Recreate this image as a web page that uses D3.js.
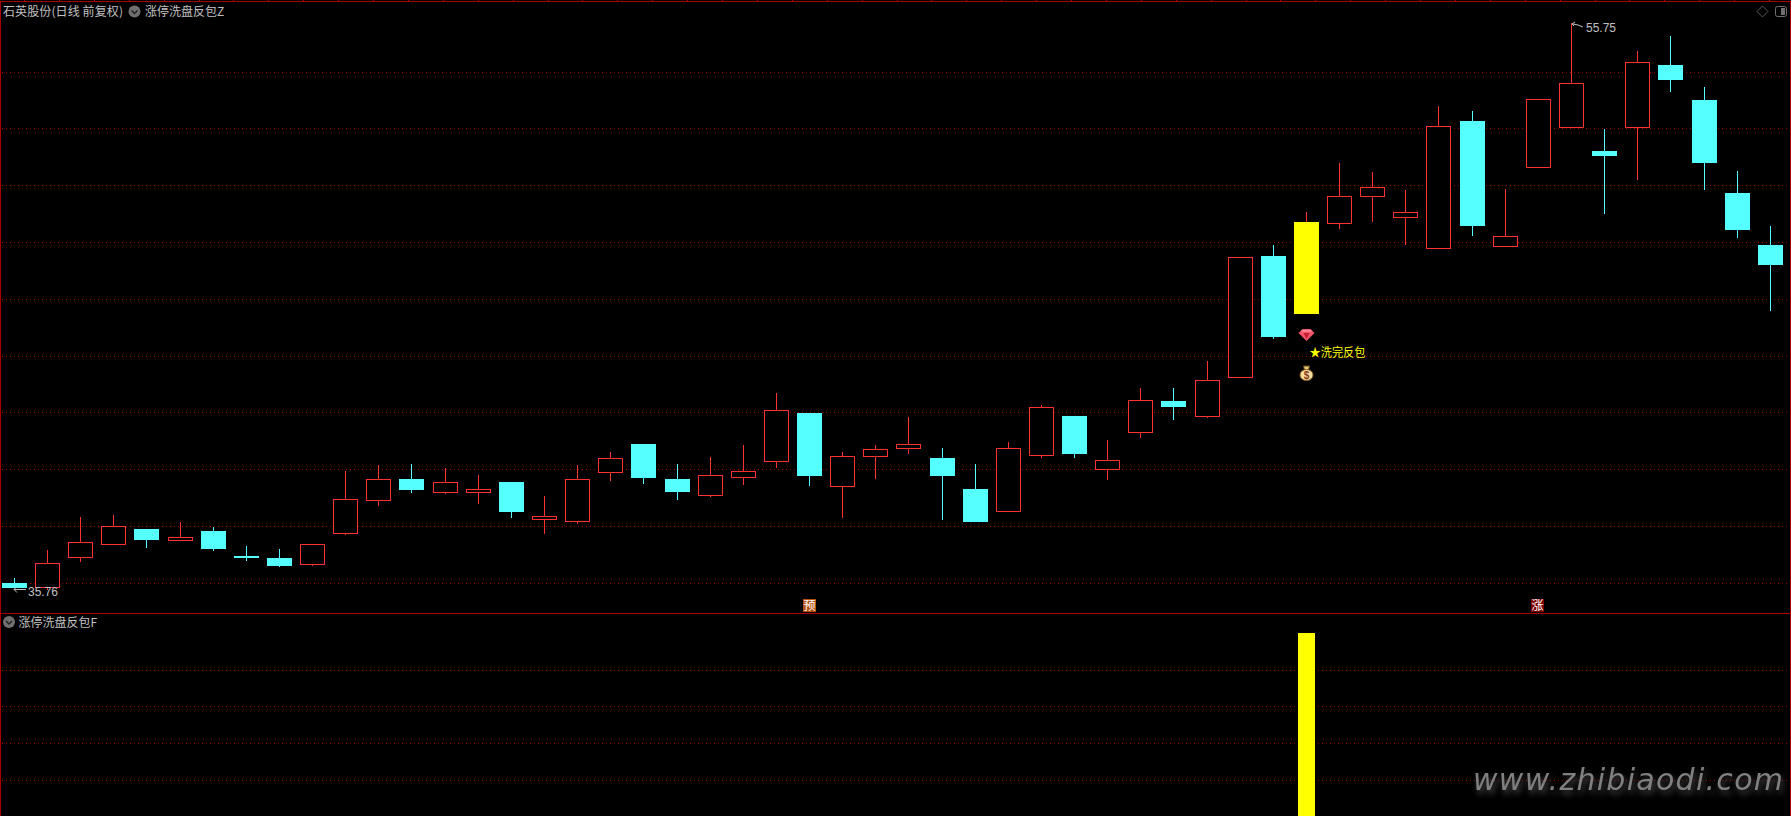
<!DOCTYPE html>
<html>
<head>
<meta charset="utf-8">
<title>涨停洗盘反包</title>
<script src="https://cdn.jsdelivr.net/npm/d3@7"></script>
<style>
  html, body { margin: 0; padding: 0; background: #000; overflow: hidden; }
  svg { display: block; }
  text { font-family: "Noto Sans CJK SC", "Liberation Sans", sans-serif; font-size: 12px; fill: #c0c0c0; }
</style>
</head>
<body>
<svg id="chart" width="1791" height="816"></svg>
<script>
// daily bars, left to right
const candleOpen = [36.01,35.82,36.90,37.36,37.91,37.50,37.84,36.96,36.89,36.65,37.74,38.91,39.67,39.19,39.19,39.56,38.22,38.17,39.89,40.90,39.67,39.08,39.72,40.28,42.00,39.40,40.46,40.72,40.41,39.32,38.52,40.49,41.89,40.00,41.30,42.42,41.86,43.24,47.53,45.48,48.66,49.61,48.87,47.78,52.28,47.85,50.64,52.05,51.22,52.02,54.25,53.02,49.75,47.91];
const candleClose = [35.83,36.70,37.44,38.00,37.52,37.62,37.20,36.89,36.61,37.37,38.96,39.66,39.28,39.55,39.31,38.51,38.36,39.66,40.40,39.71,39.21,39.80,39.94,42.09,39.78,40.47,40.72,40.89,39.78,38.16,40.75,42.20,40.55,40.33,42.44,42.21,43.15,47.48,44.67,48.72,49.63,49.95,49.07,52.09,48.58,48.22,53.05,53.61,51.05,54.35,53.73,50.80,48.44,47.21];
const candleHigh = [36.18,37.17,38.33,38.40,37.91,38.16,37.98,37.31,37.20,37.37,39.95,40.16,40.20,40.06,39.81,39.56,39.07,40.16,40.62,40.90,40.20,40.45,40.87,42.70,42.00,40.62,40.87,41.85,40.76,40.20,40.97,42.28,41.89,41.04,42.88,42.88,43.83,47.48,47.91,49.08,50.80,50.48,49.85,52.81,52.63,49.89,53.05,55.75,52.00,54.75,55.28,53.48,50.52,48.58];
const candleLow = [35.83,35.76,36.76,37.36,37.25,37.50,37.13,36.78,36.57,36.61,37.70,38.73,39.18,39.14,38.80,38.30,37.74,38.10,39.61,39.50,38.94,39.05,39.47,40.07,39.43,38.31,39.68,40.56,38.23,38.16,38.52,40.42,40.42,39.64,41.11,41.75,41.82,43.24,44.61,45.48,48.49,48.73,47.91,47.78,48.23,47.85,50.64,52.05,49.02,50.21,53.30,49.85,48.16,45.60];

const priceTicks = [36,38,40,42,44,46,48,50,52,54];
const signalTicks = [0.2,0.4,0.6,0.8];

// lower pane: the one bar that fired
const signalDay = [39];
const signalValue = [1];

const badgeDay = [24,46];
const badgeText = ["预","涨"];
const badgeColor = ["#b4500f","#7d0000"];

const titleMain = "石英股份(日线 前复权)";
const titleUpper = "涨停洗盘反包Z";
const titleLower = "涨停洗盘反包F";
const signalLabel = "★洗完反包";
const siteMark = "www.zhibiaodi.com";

const RED = "#ff3232", CYAN = "#55ffff", YELLOW = "#ffff00", FRAME = "#ab0000", GRID = "#a00000";

var svg = d3.select("#chart");
var width = 1791, height = 816;

var x = d3.scaleLinear().domain([0, candleOpen.length - 1]).range([14.405, 1770.295]);
var y = d3.scaleLinear().domain([36, 54]).range([583.2, 72.2]);
var ySignal = d3.scaleLinear().domain([0, 1]).range([817, 633.5]);

const col = i => Math.floor(x(i));
const py = v => Math.round(y(v));

// frame
svg.append("g").selectAll("line")
    .data([[0.5,1,0.5,height],[1790.5,1,1790.5,height],[0,1.5,width,1.5],[0,613.5,width,613.5]])
    .enter().append("line")
    .attr("x1", d => d[0]).attr("y1", d => d[1]).attr("x2", d => d[2]).attr("y2", d => d[3])
    .attr("stroke", FRAME).attr("shape-rendering", "crispEdges");

// little tab notches on the top edge
svg.append("g").selectAll("line")
    .data(d3.range(0, 51))
    .enter().append("line")
    .attr("x1", d => Math.round(24 + d * 34.9) + 0.5).attr("x2", d => Math.round(24 + d * 34.9) + 0.5)
    .attr("y1", 0).attr("y2", 1)
    .attr("stroke", FRAME).attr("shape-rendering", "crispEdges");

// dotted grid, upper and lower pane
function grid(ticks, scale) {
    svg.append("g").selectAll("line")
        .data(ticks)
        .enter().append("line")
        .attr("x1", 2).attr("x2", 1787)
        .attr("y1", d => Math.floor(scale(d)) + 0.5)
        .attr("y2", d => Math.floor(scale(d)) + 0.5)
        .attr("stroke", GRID)
        .attr("stroke-dasharray", "1 3")
        .attr("shape-rendering", "crispEdges");
}
grid(priceTicks, y);
grid(signalTicks, ySignal);

// candles
var days = d3.range(candleOpen.length);
var candles = svg.append("g").selectAll("g")
    .data(days)
    .enter().append("g");

candles.append("line")
    .attr("x1", d => col(d) + 0.5).attr("x2", d => col(d) + 0.5)
    .attr("y1", d => py(candleHigh[d])).attr("y2", d => py(candleLow[d]))
    .attr("stroke", d => candleClose[d] >= candleOpen[d] ? RED : CYAN)
    .attr("shape-rendering", "crispEdges");

candles.append("rect")
    .each(function(d) {
        var top = py(Math.max(candleOpen[d], candleClose[d]));
        var bottom = py(Math.min(candleOpen[d], candleClose[d]));
        var up = candleClose[d] >= candleOpen[d];
        var hit = signalDay.includes(d);
        var r = d3.select(this).attr("shape-rendering", "crispEdges");
        if (hit || !up) {
            r.attr("x", col(d) - 12).attr("y", top)
             .attr("width", 25).attr("height", Math.max(bottom - top, 1))
             .attr("fill", hit ? YELLOW : CYAN);
        } else {
            r.attr("x", col(d) - 11.5).attr("y", top + 0.5)
             .attr("width", 24).attr("height", Math.max(bottom - top - 1, 1))
             .attr("fill", "#000").attr("stroke", RED);
        }
    });

// high / low notes
function note(day, value, label, labelX, labelY, arrow) {
    svg.append("path")
        .attr("d", arrow(col(day), py(value)))
        .attr("fill", "none").attr("stroke", "#c0c0c0");
    svg.append("text")
        .attr("x", labelX).attr("y", labelY)
        .style("font-family", "'Liberation Sans', sans-serif")
        .text(label);
}
note(47, d3.max(candleHigh), d3.max(candleHigh).toFixed(2), 1586, 32, (a, b) => {
    var p = d3.path();
    p.moveTo(a + 12, b + 4); p.lineTo(a + 7, b + 2); p.lineTo(a + 2, b + 1);
    p.moveTo(a + 4, b - 1); p.lineTo(a + 1, b + 1); p.lineTo(a + 3, b + 3);
    return p.toString();
});
note(1, d3.min(candleLow), d3.min(candleLow).toFixed(2), 28, 596, (a, b) => {
    var p = d3.path();
    p.moveTo(a - 21, b - 0.5); p.lineTo(a - 33, b - 0.5);
    p.moveTo(a - 30, b - 3.5); p.lineTo(a - 33, b - 0.5); p.lineTo(a - 30, b + 2.5);
    return p.toString();
});

// signal marks under the yellow candle
var markX = col(signalDay[0]) + 0.5;

var gem = svg.append("g").attr("transform", "translate(" + markX + ",335)");
gem.append("path").attr("d", "M-8,-2 L-4,-6 L4,-6 L8,-2 L0,6 Z").attr("fill", "#f2556a");
gem.append("path").attr("d", "M-3,-2 L3,-2 L0,4 Z").attr("fill", "#c81e32");
gem.append("path").attr("d", "M-5,-4 L5,-4").attr("stroke", "#ffb0b8");

svg.append("text")
    .attr("x", markX + 3).attr("y", 357)
    .attr("textLength", 56).attr("lengthAdjust", "spacingAndGlyphs")
    .style("fill", YELLOW)
    .text(signalLabel);

var bag = svg.append("g").attr("transform", "translate(" + markX + ",373)");
bag.append("path").attr("d", "M-3,-7 L3,-7 L2,-3 L-2,-3 Z").attr("fill", "#e8c878").attr("stroke", "#6b4a1e");
bag.append("ellipse").attr("cx", 0).attr("cy", 2).attr("rx", 6.5).attr("ry", 5.5).attr("fill", "#f6dfa0").attr("stroke", "#8a6028");
bag.append("text").attr("x", 0).attr("y", 6).attr("text-anchor", "middle")
    .style("font-size", "10px").style("font-weight", "bold").style("fill", "#8a3a20")
    .style("font-family", "'Liberation Sans', sans-serif").text("$");

// badges sitting on the pane divider
var badges = svg.append("g").selectAll("g")
    .data(badgeDay)
    .enter().append("g");
badges.append("rect")
    .attr("x", d => Math.round(x(d)) - 7).attr("y", 599)
    .attr("width", 13).attr("height", 13)
    .attr("fill", (d, i) => badgeColor[i]);
badges.append("text")
    .attr("x", d => Math.round(x(d)) - 0.5).attr("y", 610)
    .attr("text-anchor", "middle")
    .style("fill", "#fff")
    .text((d, i) => badgeText[i]);

// lower pane bar
svg.append("g").selectAll("rect")
    .data(signalDay)
    .enter().append("rect")
    .attr("x", d => col(d) - 8).attr("width", 17)
    .attr("y", (d, i) => Math.floor(ySignal(signalValue[i])))
    .attr("height", (d, i) => height - Math.floor(ySignal(signalValue[i])))
    .attr("fill", YELLOW)
    .attr("shape-rendering", "crispEdges");

// titles
function chevron(cx, cy) {
    svg.append("circle").attr("cx", cx).attr("cy", cy).attr("r", 6).attr("fill", "#707070");
    svg.append("path")
        .attr("d", "M" + (cx - 3) + "," + (cy - 1) + " L" + cx + "," + (cy + 2) + " L" + (cx + 3) + "," + (cy - 1))
        .attr("fill", "none").attr("stroke", "#222").attr("stroke-width", 1.4);
}
svg.append("text").attr("x", 3).attr("y", 16)
    .attr("textLength", 120).attr("lengthAdjust", "spacing")
    .text(titleMain);
chevron(134.5, 11.5);
svg.append("text").attr("x", 145).attr("y", 16).text(titleUpper);
chevron(9, 622);
svg.append("text").attr("x", 18.5).attr("y", 627).text(titleLower);

// top right buttons
svg.append("path").attr("d", "M1762.5,6 L1768,11.5 L1762.5,17 L1757,11.5 Z")
    .attr("fill", "none").attr("stroke", "#5a5a5a");
svg.append("rect").attr("x", 1775.5).attr("y", 6.5).attr("width", 11).attr("height", 10).attr("rx", 2)
    .attr("fill", "none").attr("stroke", "#707070").attr("stroke-width", 1);
svg.append("rect").attr("x", 1781).attr("y", 8).attr("width", 4).attr("height", 7).attr("fill", "#707070");

// site watermark
svg.append("text")
    .attr("x", 1473).attr("y", 790)
    .attr("textLength", 310).attr("lengthAdjust", "spacing")
    .style("font-family", "'DejaVu Sans', sans-serif").style("font-style", "oblique").style("font-size", "30px")
    .style("fill", "#808080")
    .style("filter", "drop-shadow(2px 4px 3px #4a4a4a)")
    .text(siteMark);
</script>
</body>
</html>
